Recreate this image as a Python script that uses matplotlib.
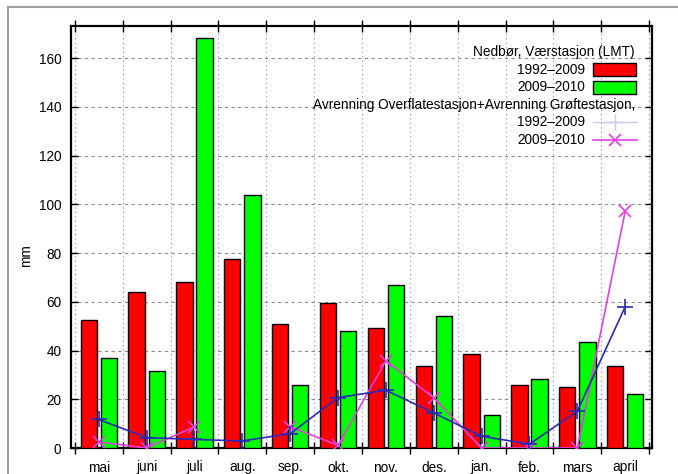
import numpy as np
import matplotlib
matplotlib.use("Agg")
import matplotlib.pyplot as plt
from matplotlib.patches import Rectangle
from matplotlib.lines import Line2D

plt.rcParams['font.family'] = ['Liberation Sans', 'DejaVu Sans']

# data
months = ["mai", "juni", "juli", "aug.", "sep.", "okt.", "nov.", "des.",
          "jan.", "feb.", "mars", "april"]
nedbor_1992 = [52.7, 63.9, 68.3, 77.7, 51.0, 59.6, 49.2, 33.7, 38.5, 25.9, 25.0, 33.7]
nedbor_2009 = [36.9, 31.7, 168.4, 103.8, 25.9, 47.9, 66.9, 54.0, 13.6, 28.5, 43.5, 22.3]
avr_1992 = [11.7, 4.3, 3.5, 2.9, 5.9, 20.7, 23.7, 14.4, 4.8, 1.6, 15.1, 58.0]
avr_2009 = [2.5, 0.0, 8.7, np.nan, 8.7, 1.1, 35.8, 20.6, 0.0, 0.0, 0.0, 97.2]

W, H = 678, 474
fs = 9.8
fig = plt.figure(figsize=(W / 100, H / 100), dpi=100)
ax = fig.add_axes([71 / W, 1 - 448 / H, (652 - 71) / W, (448 - 26) / H])

x = np.arange(len(months))
bw = 0.34
ax.bar(x - 0.21, nedbor_1992, bw, color="#ff0000", edgecolor="black", linewidth=1, zorder=3)
ax.bar(x + 0.21, nedbor_2009, bw, color="#00ff00", edgecolor="black", linewidth=1, zorder=3)

blue = "#2a2ab4"
mag = "#e040e0"
ax.plot(x, avr_1992, color=blue, lw=1.2, marker="+", ms=11, mew=1.2, zorder=5)
ax.plot(x, avr_2009, color=mag, lw=1.2, marker="x", ms=9, mew=1.2, zorder=4)

ax.set_xlim(-0.58, 11.56)
ax.set_ylim(0, 173.2)

# ticks at category boundaries, labels at the centres
ax.set_xticks(np.arange(-0.5, 12, 1))
ax.set_xticklabels([])
ax.set_xticks(x, months, minor=True)
ax.tick_params(axis="x", which="minor", length=0, pad=9, labelsize=fs)
ax.tick_params(axis="x", which="major", direction="inout", length=8, width=1, top=True)
ax.set_yticks(np.arange(0, 161, 20))
ax.tick_params(axis="y", direction="in", length=5, width=1, right=True, pad=7, labelsize=fs)

ax.grid(axis="y", color="#8c8c8c", linestyle=(0, (3, 3)), linewidth=0.8, zorder=0)
ax.grid(axis="x", which="major", color="#8c8c8c", linestyle=(0, (1, 3)), linewidth=0.8, zorder=0)
for s in ax.spines.values():
    s.set_linewidth(1.6)

ax.set_ylabel("mm", fontsize=fs)
ax.yaxis.set_label_coords((33 - 71) / 581, 0.455)

# legend drawn in gnuplot style (text right aligned, sample on the right)
def fx(p):
    return p / W

def fy(p):
    return 1 - p / H

rows = [52, 69.5, 87, 104.5, 122, 139.5]
fig.text(fx(635), fy(rows[0]), "Nedbør, Værstasjon (LMT)", ha="right", va="center", fontsize=fs)
fig.text(fx(585), fy(rows[1]), "1992–2009", ha="right", va="center", fontsize=fs)
fig.text(fx(585), fy(rows[2]), "2009–2010", ha="right", va="center", fontsize=fs)
fig.text(fx(635), fy(rows[3]), "Avrenning Overflatestasjon+Avrenning Grøftestasjon,",
         ha="right", va="center", fontsize=fs)
fig.text(fx(585), fy(rows[4]), "1992–2009", ha="right", va="center", fontsize=fs)
fig.text(fx(585), fy(rows[5]), "2009–2010", ha="right", va="center", fontsize=fs)

for r, c in [(rows[1], "#ff0000"), (rows[2], "#00ff00")]:
    fig.patches.append(Rectangle((fx(593), fy(r + 6.5)), 43 / W, 13 / H, transform=fig.transFigure,
                                 facecolor=c, edgecolor="black", linewidth=1))
fig.lines.append(Line2D([fx(593), fx(637)], [fy(rows[4])] * 2, transform=fig.transFigure,
                        color="#c8c8ec", lw=1))
fig.lines.append(Line2D([fx(615)], [fy(rows[4])], transform=fig.transFigure,
                        color="#c8c8ec", marker="+", ms=11, mew=1))
fig.lines.append(Line2D([fx(593), fx(637)], [fy(rows[5])] * 2, transform=fig.transFigure,
                        color=mag, lw=1.2))
fig.lines.append(Line2D([fx(615)], [fy(rows[5])], transform=fig.transFigure,
                        color=mag, marker="x", ms=9, mew=1.2))

# grey outer frame
fig.patches.append(Rectangle((fx(8), fy(490)), 700 / W, 483 / H, transform=fig.transFigure,
                             fill=False, edgecolor="#a0a0a0", linewidth=1.5))

fig.savefig("out.png", dpi=100)
